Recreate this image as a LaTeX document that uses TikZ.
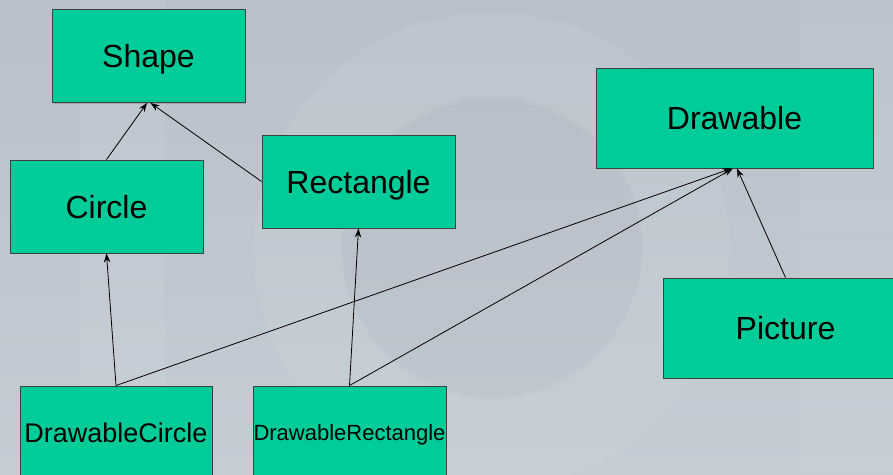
\documentclass[tikz,border=0pt]{standalone}
\usepackage{fontspec}
\setmainfont{Liberation Sans}
\usetikzlibrary{arrows.meta,shadows}
\definecolor{boxgreen}{RGB}{0,204,153}
\definecolor{bgtop}{RGB}{184,193,203}
\definecolor{bgbot}{RGB}{196,204,212}
\begin{document}
\begin{tikzpicture}[x=1pt,y=-1pt,
  cls/.style={draw=black!75, line width=0.9pt, fill=boxgreen,
    minimum width=193pt, minimum height=93pt, inner sep=0pt, text depth=0pt,
    font=\fontsize{32}{36}\selectfont,
    drop shadow={shadow xshift=1.3pt, shadow yshift=-1.3pt, opacity=0.45}},
  inh/.style={-{Stealth[length=9pt,width=6.5pt]}, line width=0.8pt, black}]
\useasboundingbox (0,0) rectangle (893,474);
\clip (0,0) rectangle (893,474);
% background
\shade[top color=bgtop, bottom color=bgbot] (0,0) rectangle (893,474);
\fill[white, opacity=0.06, even odd rule] (492,250) circle (238) (492,250) circle (150);
\fill[black, opacity=0.015] (492,246) circle (150);
\fill[white, opacity=0.07] (80,0) rectangle (165,474);
\fill[white, opacity=0.05] (800,0) rectangle (893,474);
% classes
\node[cls] (shape) at (148.5,56) {Shape};
\node[cls] (circle) at (106.5,206.5) {Circle};
\node[cls] (rect) at (358.5,181.5) {Rectangle};
\node[cls, minimum width=277pt, minimum height=100pt] (drawable) at (734.5,118) {Drawable};
\node[cls, minimum width=245pt, minimum height=100pt] (picture) at (785.5,328) {Picture};
\node[cls, minimum width=192pt, font=\fontsize{27}{30}\selectfont] (dcircle) at (116,432.5) {DrawableCircle};
\node[cls, font=\fontsize{22}{26}\selectfont] (drect) at (349.5,432.5) {DrawableRectangle};
% inheritance arrows
\draw[inh] (circle.north) -- ([xshift=-1.5pt]shape.south);
\draw[inh] (rect.west) -- ([xshift=2pt]shape.south);
\draw[inh] (dcircle.north) -- (circle.south);
\draw[inh] (drect.north) -- (rect.south);
\draw[inh] (dcircle.north) -- ([xshift=-3pt]drawable.south);
\draw[inh] (drect.north) -- ([xshift=-1.5pt]drawable.south);
\draw[inh] (picture.north) -- ([xshift=2.5pt]drawable.south);
\end{tikzpicture}
\end{document}
